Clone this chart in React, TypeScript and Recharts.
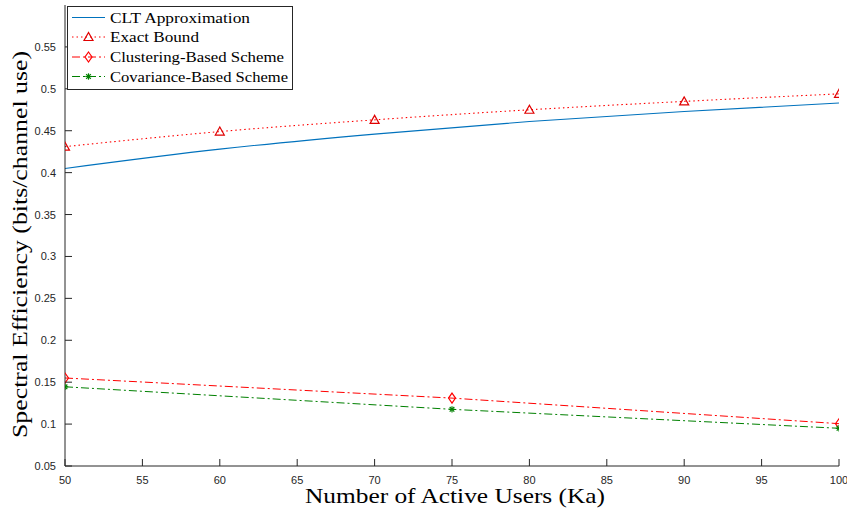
import React from 'react';
import { LineChart, Line, XAxis, YAxis, Legend } from 'recharts';

const xTicks = [50, 55, 60, 65, 70, 75, 80, 85, 90, 95, 100];
const yTicks = [0.05, 0.1, 0.15, 0.2, 0.25, 0.3, 0.35, 0.4, 0.45, 0.5, 0.55];

const cltKa = [50, 60, 70, 80, 90, 100];
const cltValues = [0.405, 0.428, 0.446, 0.461, 0.473, 0.483];
const exactKa = [50, 60, 70, 80, 90, 100];
const exactValues = [0.431, 0.449, 0.463, 0.475, 0.485, 0.494];
const schemeKa = [50, 75, 100];
const clusteringValues = [0.155, 0.131, 0.1005];
const covarianceValues = [0.1445, 0.1176, 0.095];

const seriesNames = ['CLT Approximation', 'Exact Bound', 'Clustering-Based Scheme', 'Covariance-Based Scheme'];

const cltData = cltKa.map((ka, i) => ({ ka, v: cltValues[i] }));
const exactData = exactKa.map((ka, i) => ({ ka, v: exactValues[i] }));
const clusteringData = schemeKa.map((ka, i) => ({ ka, v: clusteringValues[i] }));
const covarianceData = schemeKa.map((ka, i) => ({ ka, v: covarianceValues[i] }));

const AXIS = '#262626';
const BLUE = '#0072BD';
const RED = '#FF0000';
const GREEN = '#008000';
const SANS = '"Liberation Sans", Arial, Helvetica, sans-serif';
const SERIF = '"Liberation Serif", "Times New Roman", serif';
const DOTTED = '1.5 3';
const DASHDOT = '8 3 2 3';

const Triangle = ({ cx, cy }: { cx: number; cy: number }) => (
  <polygon
    points={`${cx},${cy - 4.5} ${cx - 4.5},${cy + 3.5} ${cx + 4.5},${cy + 3.5}`}
    fill="none"
    stroke="#E00000"
    strokeWidth={1.2}
  />
);
const Diamond = ({ cx, cy }: { cx: number; cy: number }) => (
  <polygon
    points={`${cx},${cy - 5} ${cx + 3.5},${cy} ${cx},${cy + 5} ${cx - 3.5},${cy}`}
    fill="none"
    stroke={RED}
    strokeWidth={1.2}
  />
);
const Star = ({ cx, cy }: { cx: number; cy: number }) => {
  const r = 3.2;
  const d = r * 0.72;
  return (
    <g stroke={GREEN} strokeWidth={1.2}>
      <line x1={cx - r} x2={cx + r} y1={cy} y2={cy} />
      <line x1={cx} x2={cx} y1={cy - r} y2={cy + r} />
      <line x1={cx - d} x2={cx + d} y1={cy - d} y2={cy + d} />
      <line x1={cx - d} x2={cx + d} y1={cy + d} y2={cy - d} />
    </g>
  );
};

const fmt = (v: number) => String(v);

const LeftTick = (p: any) => {
  const { x, y, payload } = p;
  return (
    <g>
      <line x1={x + 9} x2={x + 16} y1={y} y2={y} stroke={AXIS} strokeWidth={1} />
      <text x={x} y={y} textAnchor="end" dominantBaseline="central" fontSize={11} fontFamily={SANS} fill={AXIS}>
        {fmt(payload.value)}
      </text>
    </g>
  );
};
const RightTick = (p: any) => {
  const { x, y } = p;
  return <line x1={x - 7} x2={x} y1={y} y2={y} stroke={AXIS} strokeWidth={1} />;
};
const BottomTick = (p: any) => {
  const { x, y, payload } = p;
  return (
    <g>
      <line x1={x} x2={x} y1={y - 13.5} y2={y - 20.5} stroke={AXIS} strokeWidth={1} />
      <text x={x} y={y} textAnchor="middle" dominantBaseline="central" fontSize={11} fontFamily={SANS} fill={AXIS}>
        {fmt(payload.value)}
      </text>
    </g>
  );
};
const TopTick = (p: any) => {
  const { x, y } = p;
  return <line x1={x} x2={x} y1={y} y2={y + 7} stroke={AXIS} strokeWidth={1} />;
};

const YLabel = (p: any) => {
  const vb = p.viewBox || { x: 0, y: 5, width: 65, height: 461 };
  const cx = vb.x + 27;
  const cy = vb.y + vb.height / 2 + 9;
  return (
    <text
      x={cx}
      y={cy}
      transform={`rotate(-90 ${cx} ${cy})`}
      textAnchor="middle"
      fontSize={21}
      fontFamily={SERIF}
      fill="#000"
      textLength={387}
      lengthAdjust="spacingAndGlyphs"
    >
      Spectral Efficiency (bits/channel use)
    </text>
  );
};
const XLabel = (p: any) => {
  const vb = p.viewBox || { x: 65, y: 466, width: 774, height: 43 };
  const cx = vb.x + vb.width / 2 + 3;
  const cy = vb.y + 37;
  return (
    <text
      x={cx}
      y={cy}
      textAnchor="middle"
      fontSize={21}
      fontFamily={SERIF}
      fill="#000"
      textLength={300}
      lengthAdjust="spacingAndGlyphs"
    >
      Number of Active Users (Ka)
    </text>
  );
};

const legendTextWidths = [140, 89, 174, 178];

const renderLegend = () => {
  const rows = [11.5, 31, 51, 70.5];
  const styles = [
    { color: BLUE, dash: undefined as string | undefined, marker: null as any },
    { color: RED, dash: DOTTED, marker: (y: number) => <Triangle cx={21.5} cy={y} /> },
    { color: RED, dash: DASHDOT, marker: (y: number) => <Diamond cx={21.5} cy={y} /> },
    { color: GREEN, dash: DASHDOT, marker: (y: number) => <Star cx={21.5} cy={y} /> },
  ];
  return (
    <svg width={226} height={84} style={{ display: 'block' }}>
      <rect x={0.5} y={0.5} width={225} height={83} fill="#fff" stroke={AXIS} strokeWidth={1} />
      {seriesNames.map((name, i) => (
        <g key={name}>
          <line x1={5} x2={38} y1={rows[i]} y2={rows[i]} stroke={styles[i].color} strokeWidth={1} strokeDasharray={styles[i].dash} />
          {styles[i].marker ? styles[i].marker(rows[i]) : null}
          <text
            x={43}
            y={rows[i]}
            dominantBaseline="central"
            fontSize={15}
            fontFamily={SERIF}
            fill="#000"
            textLength={legendTextWidths[i]}
            lengthAdjust="spacingAndGlyphs"
          >
            {name}
          </text>
        </g>
      ))}
    </svg>
  );
};

export default function App() {
  return (
    <div style={{ position: 'absolute', left: 0, top: 0, width: 847, height: 509, background: '#fff' }}>
      <LineChart width={847} height={509} margin={{ top: 5, right: 8, bottom: 0, left: 0 }}>
        <XAxis
          xAxisId="b"
          type="number"
          dataKey="ka"
          domain={[50, 100]}
          ticks={xTicks}
          allowDataOverflow
          height={43}
          tickSize={0}
          tickMargin={13.5}
          tickLine={false}
          tick={<BottomTick />}
          axisLine={{ stroke: AXIS, strokeWidth: 1 }}
          label={<XLabel />}
          interval={0}
        />
        <XAxis
          xAxisId="t"
          orientation="top"
          type="number"
          dataKey="ka"
          domain={[50, 100]}
          ticks={xTicks}
          allowDataOverflow
          height={0}
          tickSize={0}
          tickMargin={0}
          tickLine={false}
          tick={<TopTick />}
          axisLine={{ stroke: AXIS, strokeWidth: 1 }}
          interval={0}
        />
        <YAxis
          yAxisId="l"
          type="number"
          domain={[0.05, 0.6]}
          ticks={yTicks}
          allowDataOverflow
          width={65}
          tickSize={0}
          tickMargin={9}
          tickLine={false}
          tick={<LeftTick />}
          axisLine={{ stroke: AXIS, strokeWidth: 1 }}
          label={<YLabel />}
          interval={0}
        />
        <YAxis
          yAxisId="r"
          orientation="right"
          type="number"
          domain={[0.05, 0.6]}
          ticks={yTicks}
          allowDataOverflow
          width={0}
          tickSize={0}
          tickMargin={0}
          tickLine={false}
          tick={<RightTick />}
          axisLine={{ stroke: AXIS, strokeWidth: 1 }}
          interval={0}
        />
        <Line
          xAxisId="b"
          yAxisId="l"
          data={cltData}
          dataKey="v"
          name={seriesNames[0]}
          type="monotone"
          stroke={BLUE}
          strokeWidth={1.1}
          dot={false}
          activeDot={false}
          isAnimationActive={false}
        />
        <Line
          xAxisId="b"
          yAxisId="l"
          data={exactData}
          dataKey="v"
          name={seriesNames[1]}
          type="monotone"
          stroke={RED}
          strokeWidth={1.1}
          strokeDasharray={DOTTED}
          dot={(p: any) => <Triangle key={`t${p.index}`} cx={p.cx} cy={p.cy} />}
          activeDot={false}
          isAnimationActive={false}
        />
        <Line
          xAxisId="b"
          yAxisId="l"
          data={clusteringData}
          dataKey="v"
          name={seriesNames[2]}
          type="linear"
          stroke={RED}
          strokeWidth={1}
          strokeDasharray={DASHDOT}
          dot={(p: any) => <Diamond key={`d${p.index}`} cx={p.cx} cy={p.cy} />}
          activeDot={false}
          isAnimationActive={false}
        />
        <Line
          xAxisId="b"
          yAxisId="l"
          data={covarianceData}
          dataKey="v"
          name={seriesNames[3]}
          type="linear"
          stroke={GREEN}
          strokeWidth={1}
          strokeDasharray={DASHDOT}
          dot={(p: any) => <Star key={`s${p.index}`} cx={p.cx} cy={p.cy} />}
          activeDot={false}
          isAnimationActive={false}
        />
        <Legend
          layout="vertical"
          align="center"
          verticalAlign="middle"
          content={renderLegend}
          wrapperStyle={{ position: 'absolute', left: 67, top: 6, width: 226, height: 84 }}
        />
      </LineChart>
    </div>
  );
}
